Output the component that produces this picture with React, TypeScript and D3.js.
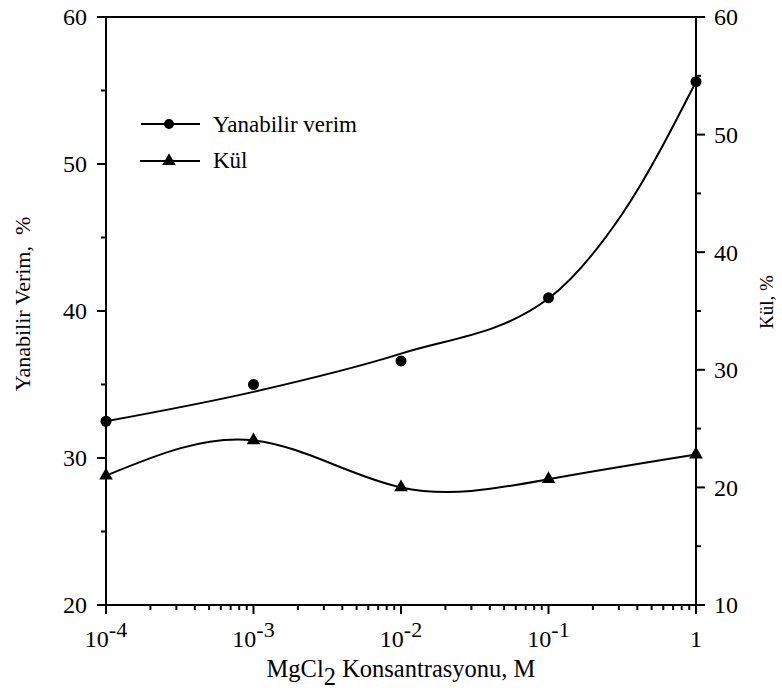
import React from 'react';
import * as d3 from 'd3';

// MgCl2 concentration (M), one entry per measurement
const concentrations = [1e-4, 1e-3, 1e-2, 1e-1, 1];
// Combustible yield (%) – measured points
const yieldPoints = [32.5, 35.0, 36.6, 40.9, 55.6];
// Fitted trend curve for the yield: concentrations and values along it
const yieldFitConc = [1e-4, 1e-3, 1e-2, 0.1, 0.316, 1];
const yieldFitValues = [32.5, 34.5, 37.1, 40.85, 46.6, 55.6];
// Ash content (%)
const ashPoints = [21.0, 24.0, 20.0, 20.7, 22.8];

const leftTicks = [20, 30, 40, 50, 60];
const leftMinorTicks = [25, 35, 45, 55];
const rightTicks = [10, 20, 30, 40, 50, 60];
const rightMinorTicks = [15, 25, 35, 45, 55];
const xTickExponents = [-4, -3, -2, -1, 0];

const W = 782;
const H = 691;
const box = { left: 106, right: 696, top: 17, bottom: 605 };
const FONT = "'Liberation Serif', 'Times New Roman', serif";

export default function App() {
  const x = d3.scaleLog().domain([1e-4, 1]).range([box.left, box.right]);
  const yL = d3.scaleLinear().domain([20, 60]).range([box.bottom, box.top]);
  const yR = d3.scaleLinear().domain([10, 60]).range([box.bottom, box.top]);

  const yieldLine = d3
    .line<number>()
    .x((_, i) => x(yieldFitConc[i]))
    .y((d) => yL(d))
    .curve(d3.curveMonotoneX)(yieldFitValues) as string;

  const ashLine = d3
    .line<number>()
    .x((_, i) => x(concentrations[i]))
    .y((d) => yR(d))
    .curve(d3.curveNatural)(ashPoints) as string;

  const tri = (size: number) => d3.symbol().type(d3.symbolTriangle).size(size)() as string;

  const minorX: number[] = [];
  xTickExponents.slice(0, -1).forEach((e) => {
    for (let k = 2; k <= 9; k++) minorX.push(k * Math.pow(10, e));
  });

  const stroke = '#000';
  const txt = { fontFamily: FONT, fill: '#000' } as React.CSSProperties;

  return (
    <svg width={W} height={H} style={{ position: 'absolute', left: 0, top: 0, background: '#fff' }}>
      <rect width={W} height={H} fill="#fff" />

      {/* frame: top, left, right, bottom */}
      <line x1={box.left - 9} x2={box.right + 9} y1={box.top} y2={box.top} stroke={stroke} strokeWidth={2} />
      <line x1={box.left} x2={box.left} y1={box.top} y2={box.bottom} stroke={stroke} strokeWidth={2} />
      <line x1={box.right} x2={box.right} y1={box.top} y2={box.bottom} stroke={stroke} strokeWidth={2} />
      <line x1={box.left} x2={box.right} y1={box.bottom} y2={box.bottom} stroke={stroke} strokeWidth={2} />

      {/* left axis */}
      {leftTicks.map((t) => (
        <g key={'l' + t}>
          <line x1={box.left - 9} x2={box.left} y1={yL(t)} y2={yL(t)} stroke={stroke} strokeWidth={2} />
          <text x={box.left - 19} y={yL(t)} dy="0.35em" textAnchor="end" fontSize={24} style={txt}>
            {t}
          </text>
        </g>
      ))}
      {leftMinorTicks.map((t) => (
        <line key={'lm' + t} x1={box.left - 5} x2={box.left} y1={yL(t)} y2={yL(t)} stroke={stroke} strokeWidth={2} />
      ))}

      {/* right axis */}
      {rightTicks.map((t) => (
        <g key={'r' + t}>
          <line x1={box.right} x2={box.right + 9} y1={yR(t)} y2={yR(t)} stroke={stroke} strokeWidth={2} />
          <text x={box.right + 18} y={yR(t)} dy="0.35em" textAnchor="start" fontSize={24} style={txt}>
            {t}
          </text>
        </g>
      ))}
      {rightMinorTicks.map((t) => (
        <line key={'rm' + t} x1={box.right} x2={box.right + 5} y1={yR(t)} y2={yR(t)} stroke={stroke} strokeWidth={2} />
      ))}

      {/* bottom log axis */}
      {xTickExponents.map((e) => {
        const v = Math.pow(10, e);
        return (
          <g key={'x' + e}>
            <line x1={x(v)} x2={x(v)} y1={box.bottom} y2={box.bottom + 9} stroke={stroke} strokeWidth={2} />
            <text x={x(v)} y={647} textAnchor="middle" fontSize={24} style={txt}>
              {e === 0 ? (
                '1'
              ) : (
                <>
                  <tspan>10</tspan>
                  <tspan dy={-10} fontSize={22}>
                    {'-' + Math.abs(e)}
                  </tspan>
                </>
              )}
            </text>
          </g>
        );
      })}
      {minorX.map((v, i) => (
        <line key={'xm' + i} x1={x(v)} x2={x(v)} y1={box.bottom} y2={box.bottom + 5} stroke={stroke} strokeWidth={2} />
      ))}

      {/* axis titles */}
      <text x={401} y={677} textAnchor="middle" fontSize={24.5} style={txt}>
        <tspan>MgCl</tspan>
        <tspan dy={8}>2</tspan>
        <tspan dy={-8}> Konsantrasyonu, M</tspan>
      </text>
      <text
        transform="translate(30,304) rotate(-90)"
        textAnchor="middle"
        fontSize={22}
        style={{ ...txt, whiteSpace: 'pre' }}
      >
        {'Yanabilir Verim,  %'}
      </text>
      <text transform="translate(773,302) rotate(-90)" textAnchor="middle" fontSize={19} style={txt}>
        Kül, %
      </text>

      {/* curves */}
      <path d={yieldLine} fill="none" stroke={stroke} strokeWidth={2} />
      <path d={ashLine} fill="none" stroke={stroke} strokeWidth={2} />

      {/* markers */}
      {yieldPoints.map((v, i) => (
        <circle key={'yp' + i} cx={x(concentrations[i])} cy={yL(v)} r={5.5} fill={stroke} />
      ))}
      {ashPoints.map((v, i) => (
        <path key={'ap' + i} d={tri(80)} transform={`translate(${x(concentrations[i])},${yR(v)})`} fill={stroke} />
      ))}

      {/* legend */}
      <g>
        <line x1={141} x2={200} y1={124} y2={124} stroke={stroke} strokeWidth={2} />
        <circle cx={169} cy={124} r={5} fill={stroke} />
        <text x={213} y={132} fontSize={23} style={txt}>
          Yanabilir verim
        </text>
        <line x1={140} x2={200} y1={161} y2={161} stroke={stroke} strokeWidth={2} />
        <path d={tri(80)} transform="translate(169,161)" fill={stroke} />
        <text x={213} y={168} fontSize={23} style={txt}>
          Kül
        </text>
      </g>
    </svg>
  );
}
